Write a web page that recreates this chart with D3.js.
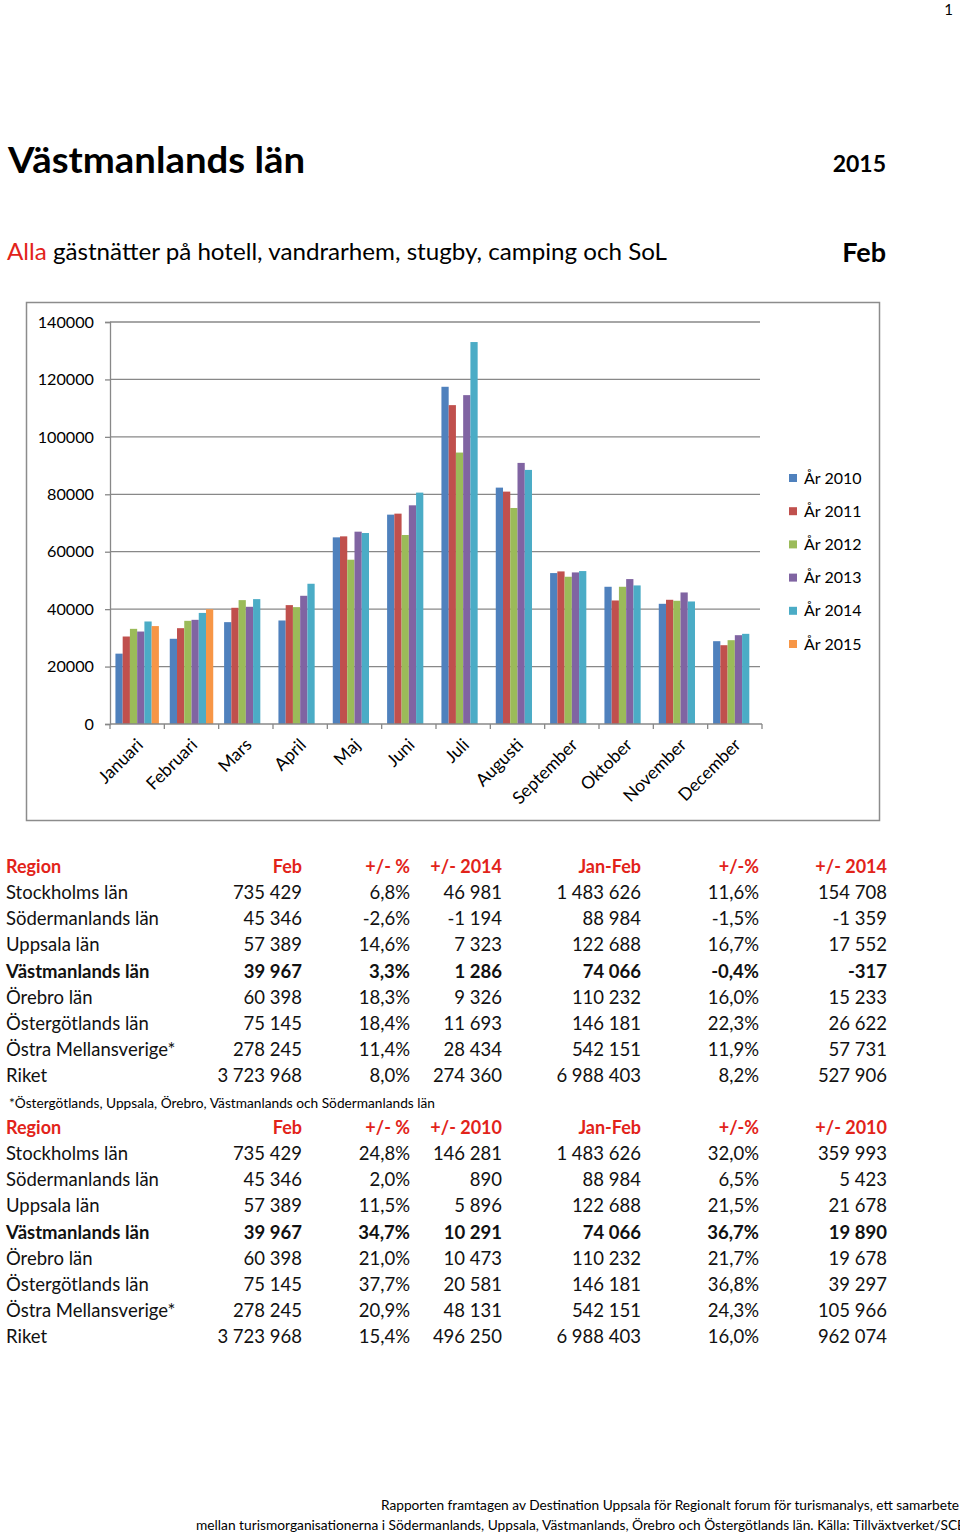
<!DOCTYPE html>
<html><head><meta charset="utf-8">
<script src="https://cdn.jsdelivr.net/npm/d3@7"></script>
<style>
html,body{margin:0;padding:0;background:#fff;}
svg{display:block;font-family:Lato,"Open Sans",sans-serif;}
</style></head>
<body>
<svg id="c" width="960" height="1534"></svg>
<script>
// ---------- data ----------
const months = ["Januari","Februari","Mars","April","Maj","Juni","Juli","Augusti","September","Oktober","November","December"];
const years = ["År 2010","År 2011","År 2012","År 2013","År 2014","År 2015"];
const y2010 = [24500, 29676, 35470, 36050, 65000, 72910, 117440, 82320, 52560, 47790, 41860, 28840];
const y2011 = [30470, 33370, 40470, 41400, 65350, 73260, 111050, 80930, 53140, 43020, 43260, 27440];
const y2012 = [33140, 35930, 43140, 40700, 57210, 65820, 94530, 75230, 51280, 47790, 42910, 29190];
const y2013 = [32200, 36280, 40820, 44650, 66980, 76160, 114530, 90930, 52790, 50470, 45810, 30930];
const y2014 = [35702, 38681, 43490, 48840, 66510, 80580, 133020, 88490, 53260, 48260, 42670, 31400];
const y2015 = [34099, 39967];
const yTicks = [0, 20000, 40000, 60000, 80000, 100000, 120000, 140000];
const colors = ["#4f81bd","#c0504d","#9bbb59","#8064a2","#4bacc6","#f79646"];

const regions = ["Stockholms län","Södermanlands län","Uppsala län","Västmanlands län","Örebro län","Östergötlands län","Östra Mellansverige*","Riket"];
const febVals = ["735 429","45 346","57 389","39 967","60 398","75 145","278 245","3 723 968"];
const pct2014 = ["6,8%","-2,6%","14,6%","3,3%","18,3%","18,4%","11,4%","8,0%"];
const diff2014 = ["46 981","-1 194","7 323","1 286","9 326","11 693","28 434","274 360"];
const janFebVals = ["1 483 626","88 984","122 688","74 066","110 232","146 181","542 151","6 988 403"];
const pctJF2014 = ["11,6%","-1,5%","16,7%","-0,4%","16,0%","22,3%","11,9%","8,2%"];
const diffJF2014 = ["154 708","-1 359","17 552","-317","15 233","26 622","57 731","527 906"];
const pct2010 = ["24,8%","2,0%","11,5%","34,7%","21,0%","37,7%","20,9%","15,4%"];
const diff2010 = ["146 281","890","5 896","10 291","10 473","20 581","48 131","496 250"];
const pctJF2010 = ["32,0%","6,5%","21,5%","36,7%","21,7%","36,8%","24,3%","16,0%"];
const diffJF2010 = ["359 993","5 423","21 678","19 890","19 678","39 297","105 966","962 074"];
const headers2014 = ["Region","Feb","+/- %","+/- 2014","Jan-Feb","+/-%","+/- 2014"];
const headers2010 = ["Region","Feb","+/- %","+/- 2010","Jan-Feb","+/-%","+/- 2010"];

const series = [y2010, y2011, y2012, y2013, y2014, y2015];

// ---------- drawing ----------
const svg = d3.select("#c");
const RED = "#e2231a";

svg.append("text").attr("x", 953).attr("y", 15).attr("text-anchor","end")
  .attr("font-size", 15).text("1");

svg.append("text").attr("x", 8).attr("y", 173).attr("font-size", 36).attr("font-weight","bold")
  .attr("textLength", 297).attr("lengthAdjust","spacingAndGlyphs").text("Västmanlands län");
svg.append("text").attr("x", 886).attr("y", 172).attr("text-anchor","end").attr("font-size", 23)
  .attr("font-weight","bold").text("2015");

const sub = svg.append("text").attr("x", 7).attr("y", 260).attr("font-size", 23)
  .attr("textLength", 660).attr("lengthAdjust","spacingAndGlyphs");
sub.append("tspan").attr("fill", RED).text("Alla");
sub.append("tspan").attr("fill", "#000").text(" gästnätter på hotell, vandrarhem, stugby, camping och SoL");
svg.append("text").attr("x", 886).attr("y", 262).attr("text-anchor","end").attr("font-size", 27)
  .attr("font-weight","bold").text("Feb");

// chart frame
svg.append("rect").attr("x", 26.5).attr("y", 302.5).attr("width", 853).attr("height", 518)
  .attr("fill","none").attr("stroke","#8c8c8c").attr("stroke-width", 1.5);

const x0 = d3.scaleBand().domain(months).range([110, 762]).padding(0);
const x1 = d3.scaleBand().domain(years).range([0, x0.bandwidth()]).paddingInner(0).paddingOuter(0.75);
const y = d3.scaleLinear().domain([0, 140000]).range([724, 322]);

// gridlines
svg.append("g").selectAll("line").data(yTicks.filter(d => d > 0)).join("line")
  .attr("x1", 110).attr("x2", 760).attr("y1", d => y(d)).attr("y2", d => y(d))
  .attr("stroke", "#888").attr("stroke-width", 1.3);

// y axis
const yAxis = svg.append("g").attr("transform", "translate(110,0)")
  .call(d3.axisLeft(y).tickValues(yTicks).tickSize(5).tickPadding(11).tickFormat(d3.format("d")));
yAxis.select(".domain").attr("stroke", "#888").attr("stroke-width", 1.3);
yAxis.selectAll(".tick line").attr("stroke", "#888").attr("stroke-width", 1.3);
yAxis.selectAll("text").attr("font-size", 16.2).attr("font-family", "Lato").attr("fill", "#000");

// bars
const barData = [];
series.forEach((s, si) => s.forEach((v, mi) => barData.push({m: months[mi], yr: years[si], v, si})));
svg.append("g").selectAll("rect").data(barData).join("rect")
  .attr("x", d => x0(d.m) + x1(d.yr))
  .attr("width", x1.bandwidth())
  .attr("y", d => y(d.v))
  .attr("height", d => y(0) - y(d.v))
  .attr("fill", d => colors[d.si]);

// x axis
svg.append("line").attr("x1", 110).attr("x2", 762).attr("y1", 724).attr("y2", 724)
  .attr("stroke", "#888").attr("stroke-width", 1.3);
const bounds = months.map(m => x0(m)).concat([x0.range()[1]]);
svg.append("g").selectAll("line").data(bounds).join("line")
  .attr("x1", d => d).attr("x2", d => d).attr("y1", 724).attr("y2", 729)
  .attr("stroke", "#888").attr("stroke-width", 1.3);
svg.append("g").selectAll("text").data(months).join("text")
  .attr("transform", d => `translate(${x0(d) + x0.bandwidth()/2 + 7},746) rotate(-45)`)
  .attr("text-anchor", "end").attr("font-size", 17.5).text(d => d);

// legend
const lg = svg.append("g").selectAll("g").data(years).join("g")
  .attr("transform", (d, i) => `translate(789,${478 + i * 33.2})`);
lg.append("rect").attr("x", 0).attr("y", -4).attr("width", 8).attr("height", 8)
  .attr("fill", (d, i) => colors[i]);
lg.append("text").attr("x", 15).attr("y", 5.5).attr("font-size", 16).text(d => d);

// tables
const colX = [6, 302, 410, 502, 641, 759, 887];
function drawTable(top, headers, cols) {
  const g = svg.append("g");
  headers.forEach((h, i) => {
    g.append("text").attr("x", colX[i]).attr("y", top)
      .attr("text-anchor", i === 0 ? "start" : "end")
      .attr("font-size", 18).attr("font-weight", "bold").attr("fill", RED).text(h);
  });
  regions.forEach((r, ri) => {
    const yy = top + 26.15 * (ri + 1);
    const bold = r === "Västmanlands län" ? "bold" : "normal";
    const row = [r].concat(cols.map(c => c[ri]));
    row.forEach((t, i) => {
      g.append("text").attr("x", colX[i]).attr("y", yy)
        .attr("text-anchor", i === 0 ? "start" : "end")
        .attr("font-size", 18.5).attr("font-weight", bold).attr("fill", "#111").text(t);
    });
  });
}
drawTable(873, headers2014, [febVals, pct2014, diff2014, janFebVals, pctJF2014, diffJF2014]);
svg.append("text").attr("x", 9).attr("y", 1108).attr("font-size", 13.5)
  .attr("textLength", 426).attr("lengthAdjust","spacingAndGlyphs")
  .text("*Östergötlands, Uppsala, Örebro, Västmanlands och Södermanlands län");
drawTable(1134, headers2010, [febVals, pct2010, diff2010, janFebVals, pctJF2010, diffJF2010]);

// footer
svg.append("text").attr("x", 381).attr("y", 1510).attr("font-size", 13.5)
  .attr("textLength", 578).attr("lengthAdjust","spacingAndGlyphs")
  .text("Rapporten framtagen av Destination Uppsala för Regionalt forum för turismanalys, ett samarbete");
svg.append("text").attr("x", 196).attr("y", 1530).attr("font-size", 13.5)
  .attr("textLength", 770).attr("lengthAdjust","spacingAndGlyphs")
  .text("mellan turismorganisationerna i Södermanlands, Uppsala, Västmanlands, Örebro och Östergötlands län. Källa: Tillväxtverket/SCB");
</script>
</body></html>
